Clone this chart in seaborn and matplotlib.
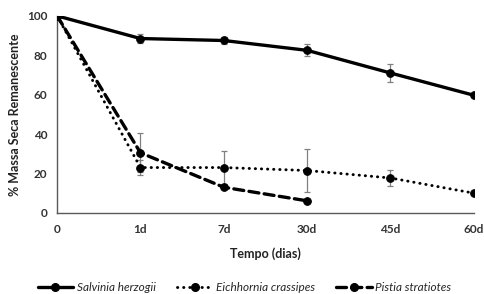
import pandas as pd
import matplotlib
matplotlib.use("Agg")
import matplotlib.pyplot as plt
import seaborn as sns
from matplotlib.lines import Line2D

# Data
tempo = ["0", "1d", "7d", "30d", "45d", "60d"]

salvinia = [100, 88.5, 87.5, 82.5, 71.0, 59.7]
salvinia_err = [0, 2.5, 2.0, 3.0, 4.5, 0]

eichhornia = [100, 23.0, 23.0, 21.5, 17.7, 10.0]
eichhornia_err = [0, 3.7, 8.5, 11.0, 4.3, 0]

pistia = [100, 30.5, 13.0, 6.1]
pistia_err = [0, 10.0, 0, 0]

species = ["Salvinia herzogii", "Eichhornia crassipes", "Pistia stratiotes"]
values = [salvinia, eichhornia, pistia]
errors = [salvinia_err, eichhornia_err, pistia_err]

rows = []
for sp, vals, errs in zip(species, values, errors):
    for i, (v, e) in enumerate(zip(vals, errs)):
        rows.append({"especie": sp, "pos": i, "massa": v, "err": e})
df = pd.DataFrame(rows)

sns.set_style("white")
plt.rcParams["font.family"] = ["Lato", "DejaVu Sans"]

fig = plt.figure(figsize=(4.84, 2.94), dpi=100)
ax = fig.add_axes([0.118, 0.276, 0.861, 0.670])

styles = {
    "Salvinia herzogii": dict(lw=2.4, dashes=None),
    "Eichhornia crassipes": dict(lw=2.1, dashes=(0.1, 2.0)),
    "Pistia stratiotes": dict(lw=2.4, dashes=(3.0, 1.6)),
}

handles = []
for sp in species:
    sub = df[df["especie"] == sp]
    st = styles[sp]
    # error bars (gray, small caps)
    ax.errorbar(sub["pos"], sub["massa"], yerr=sub["err"], fmt="none",
                ecolor="#808080", elinewidth=0.9, capsize=2.5, capthick=0.9, zorder=1)
    sns.lineplot(data=sub, x="pos", y="massa", ax=ax, color="black",
                 lw=st["lw"], marker="o", markersize=5.5,
                 markeredgecolor="black", legend=False, zorder=3)
    ln = ax.lines[-1]
    if st["dashes"] is not None:
        ln.set_dashes(st["dashes"])
    ln.set_dash_capstyle("round")
    h = Line2D([0], [0], color="black", lw=st["lw"], marker="o", markersize=5.5)
    if st["dashes"] is not None:
        h.set_dashes(st["dashes"])
    h.set_dash_capstyle("round")
    handles.append(h)

ax.set_xlim(0, 5)
ax.set_ylim(0, 100)
ax.set_xticks(range(len(tempo)))
ax.set_xticklabels(tempo)
ax.set_yticks([0, 20, 40, 60, 80, 100])

for side in ["top", "right"]:
    ax.spines[side].set_visible(False)
for side in ["left", "bottom"]:
    ax.spines[side].set_color("#595959")
    ax.spines[side].set_linewidth(1.0)

ax.tick_params(axis="both", direction="out", length=3, width=1.0,
               color="#595959", labelsize=8.5, pad=4)
ax.tick_params(axis="x", pad=5)
for lab in ax.get_xticklabels() + ax.get_yticklabels():
    lab.set_fontweight("bold")
    lab.set_color("#333333")

ax.set_xlabel("Tempo (dias)", fontsize=9, fontweight="bold", color="#222222", labelpad=9)
ax.set_ylabel("% Massa Seca Remanescente", fontsize=9, fontweight="bold", color="#222222", labelpad=4)

fig.legend(handles, species, loc="center", bbox_to_anchor=(0.505, 0.022),
           ncol=3, frameon=False, handlelength=3.0, columnspacing=1.8,
           handletextpad=0.3, prop={"style": "italic", "size": 8.5})

fig.savefig("out.png", dpi=100)
